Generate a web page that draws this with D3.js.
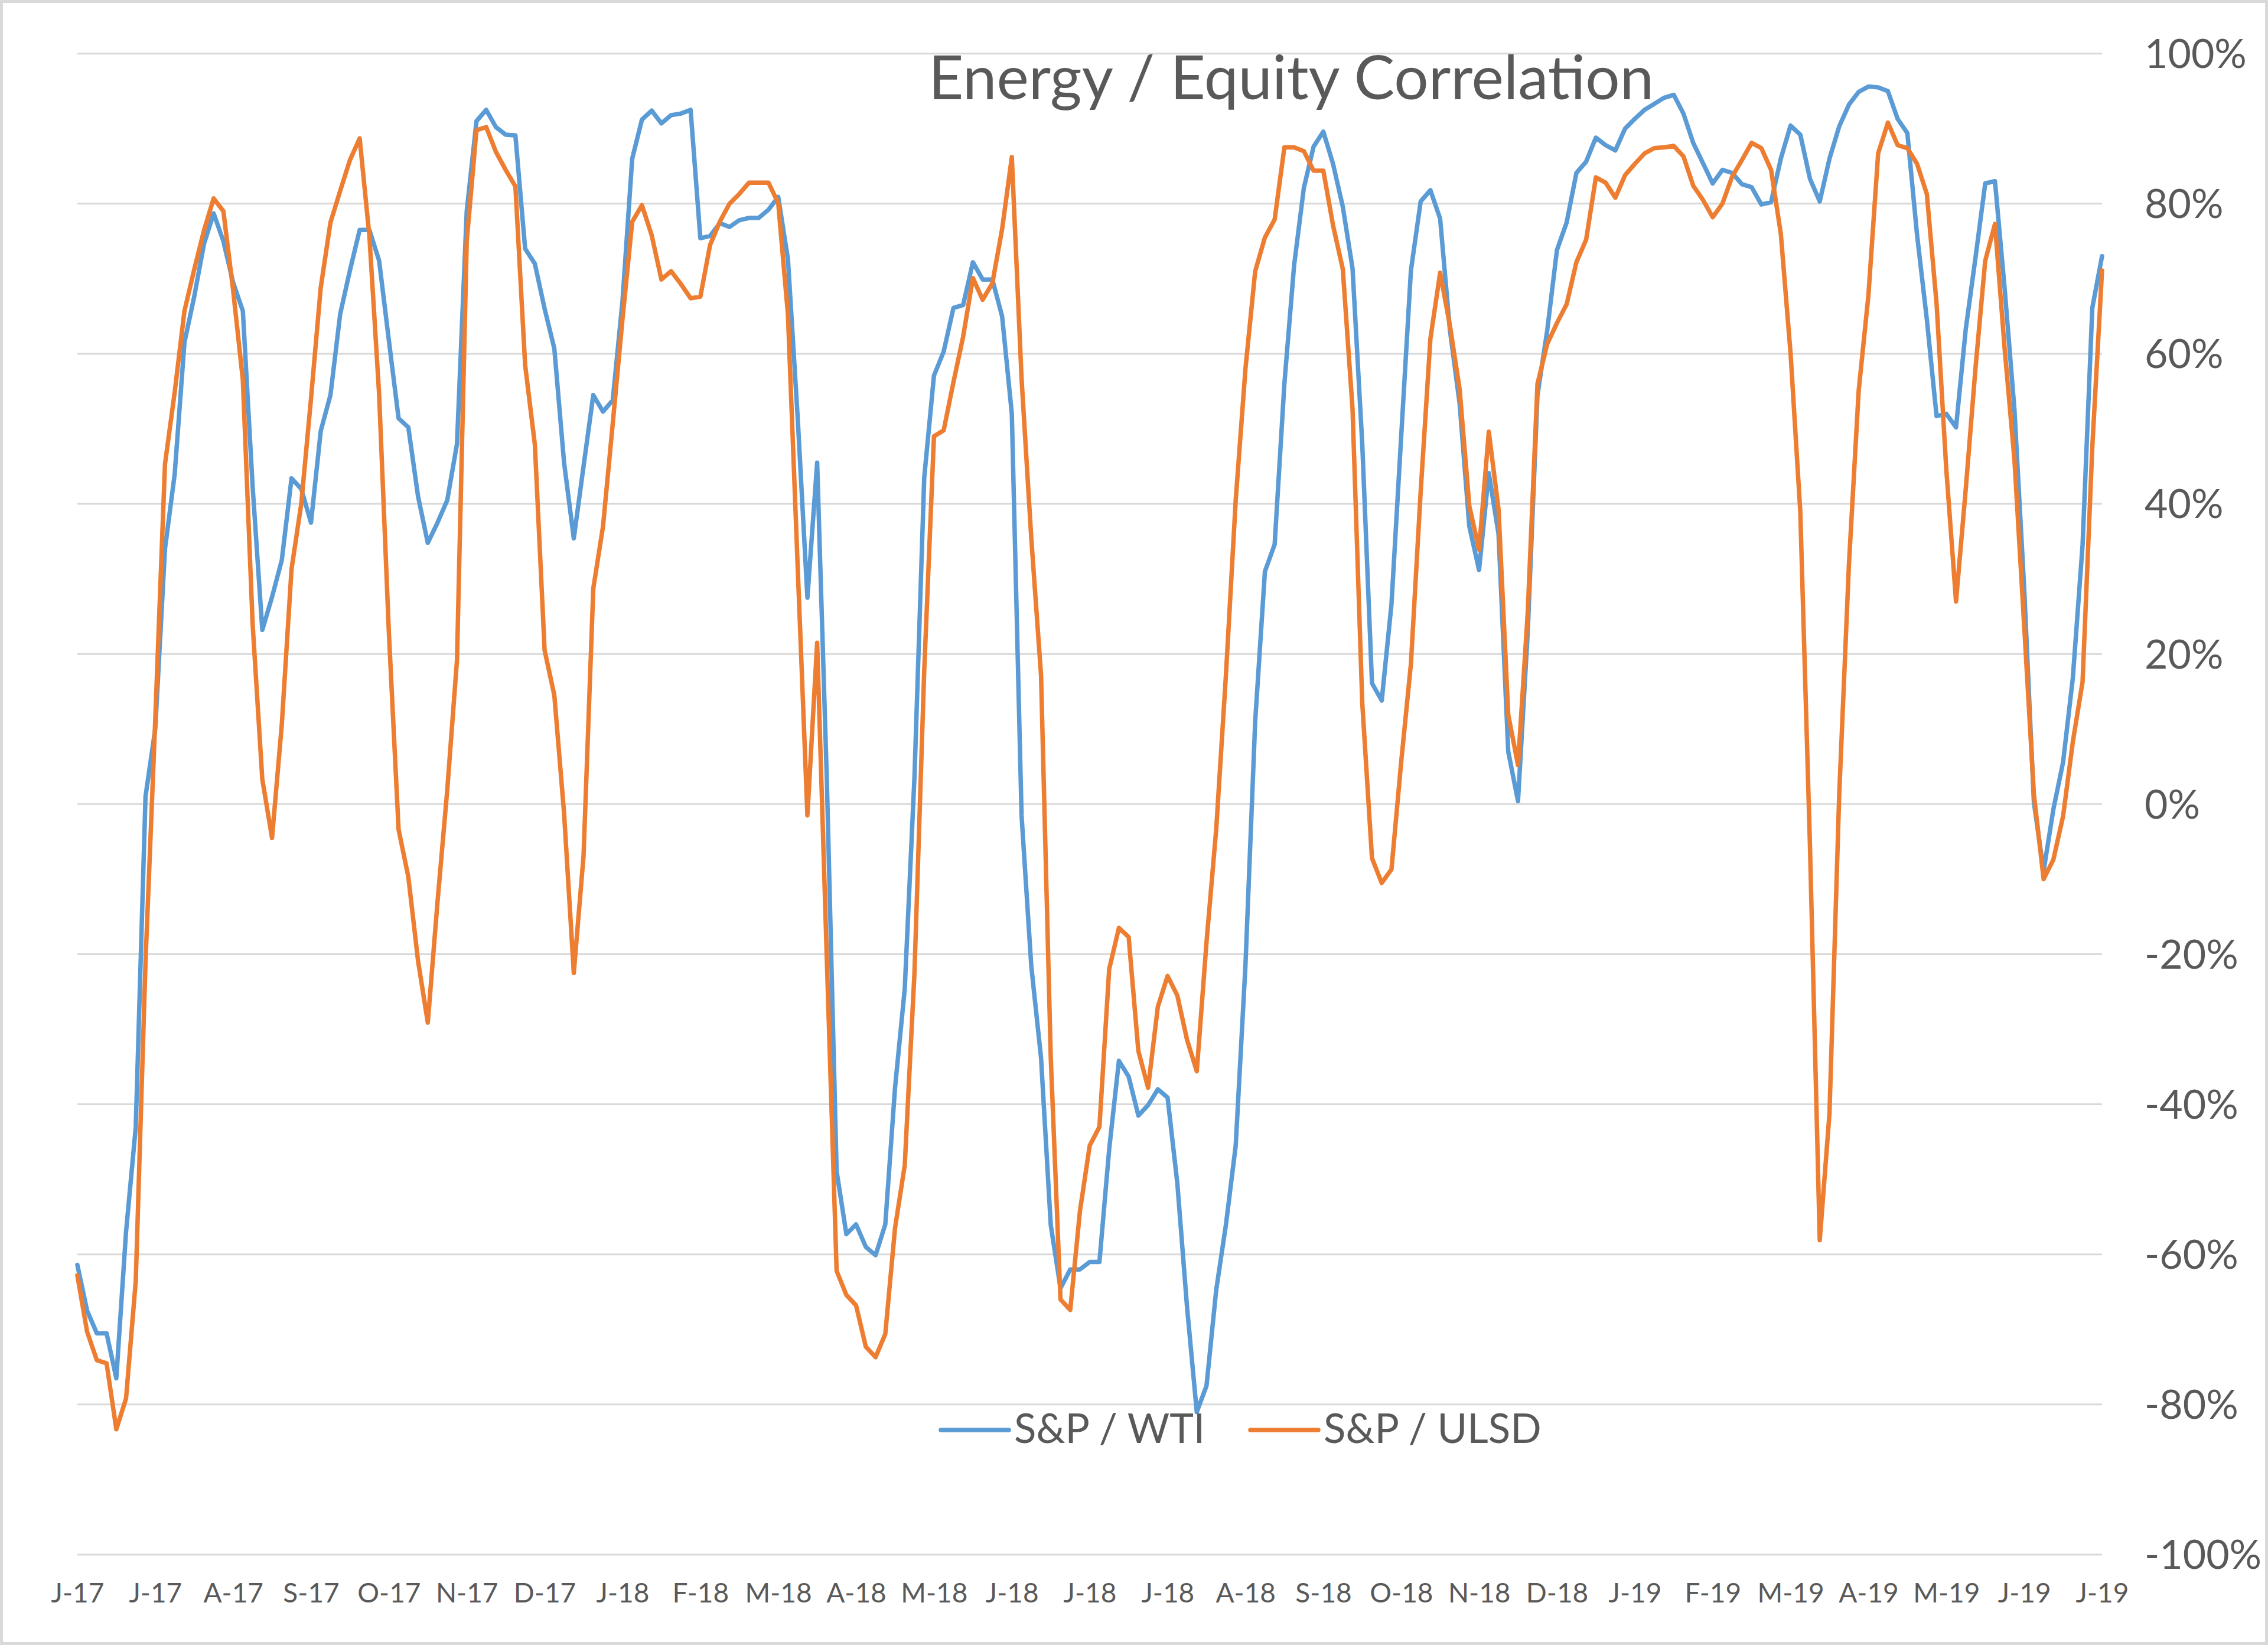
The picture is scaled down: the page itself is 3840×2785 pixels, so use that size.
<!DOCTYPE html>
<html><head><meta charset="utf-8">
<script src="https://cdn.jsdelivr.net/npm/d3@7"></script>
<style>html,body{margin:0;padding:0;background:#fff;} svg{display:block;}</style>
</head><body>
<svg id="chart" width="3840" height="2785"></svg>
<script>
// ---- data ----
const tickLabels = ["J-17","J-17","A-17","S-17","O-17","N-17","D-17","J-18","F-18","M-18","A-18","M-18","J-18","J-18","J-18","A-18","S-18","O-18","N-18","D-18","J-19","F-19","M-19","A-19","M-19","J-19","J-19"];
const pointsPerLabel = 8;
const seriesNames = ["S&P / WTI", "S&P / ULSD"];
const yTicks = [-100,-80,-60,-40,-20,0,20,40,60,80,100];

const wti = [
-61.4,-67.5,-70.5,-70.5,-76.5,-57,-43,1,
10,34,44,61.5,67.6,74.6,78.7,75,
69.5,65.7,42.4,23.2,27.6,32.5,43.4,42,
37.5,49.7,54.5,65.3,71.1,76.5,76.5,72.4,
61.8,51.4,50.2,41,34.8,37.5,40.5,48,
79,91,92.5,90.2,89.2,89.1,74,72,
66,60.7,45.5,35.4,45,54.5,52.3,53.8,
67,86,91.2,92.4,90.7,91.8,92,92.5,
75.4,75.7,77.4,76.9,77.8,78.1,78.1,79.2,
80.9,72.6,51.5,27.5,45.5,3,-48.9,-57.3,
-56,-59,-60.1,-56,-37.8,-24.6,3.7,43.5,
57.1,60.3,66.1,66.5,72.2,69.9,69.9,65,
52,-1.5,-21.6,-33.8,-56.1,-64.5,-62,-62,
-61,-61,-46,-34.2,-36.3,-41.5,-40.1,-38,
-39.1,-50.5,-67,-81,-77.5,-64.7,-56,-45.5,
-21.5,11,31,34.6,56,71.8,82.1,87.6,
89.6,85.3,79.6,71.4,48,16.1,13.8,26.6,
49,71.1,80.3,81.8,78,63.2,53.4,37,
31.2,44.1,36,7,0.4,22.9,54.5,63.1,
73.8,77.5,84.1,85.6,88.8,87.8,87.1,90,
91.3,92.5,93.3,94.1,94.5,92,88.1,85.4,
82.7,84.5,84.1,82.6,82.2,79.9,80.2,86,
90.4,89.2,83.3,80.3,86,90.3,93.2,94.9,
95.6,95.5,95,91.3,89.4,75.8,64.6,51.7,
52,50.2,63.3,72.8,82.7,83,68.6,52.6,
28.8,0.2,-8.9,-0.7,5.6,16.8,34.5,66.1,
73];

const ulsd = [
-62.8,-70.3,-74.1,-74.5,-83.3,-79.2,-63.5,-21,
11.2,45.3,54.9,65.7,71.2,76.4,80.7,79,
68.5,56.5,24.1,3.3,-4.5,10.6,31.3,40,
54,68.8,77.5,81.7,85.8,88.7,75.7,54.6,
22.9,-3.4,-9.7,-20.9,-29.1,-13,1.9,19.2,
75,89.8,90.2,86.9,84.5,82.3,58.5,47.9,
20.5,14.5,-1.2,-22.5,-6.9,28.7,37,50.7,
64.6,77.6,79.8,75.8,69.9,71,69.3,67.4,
67.6,74.5,77.6,80,81.3,82.8,82.8,82.8,
80.1,65.2,31.6,-1.5,21.5,-20.9,-62.2,-65.4,
-66.8,-72.3,-73.7,-70.6,-56.5,-48.1,-22.4,17.8,
49,49.8,56.2,62.3,70.1,67.2,69.4,76.6,
86.2,56.7,35.4,17.2,-33.8,-66,-67.4,-54.2,
-45.5,-43,-22,-16.5,-17.7,-32.9,-37.8,-27,
-22.9,-25.5,-31.4,-35.6,-18.4,-3.3,17.3,40.5,
58,71,75.5,77.9,87.5,87.5,87,84.4,
84.4,77.1,71.3,52.7,13.5,-7.2,-10.5,-8.7,
5.6,18.7,41.6,62,70.8,63.8,55.3,39.7,
33.9,49.6,39.3,11.9,5.2,25.5,56,61.3,
64.1,66.6,72.2,75.2,83.5,82.8,80.8,83.8,
85.3,86.7,87.4,87.5,87.7,86.3,82.4,80.5,
78.2,80,83.6,85.8,88.1,87.4,84.5,76,
60.1,39,-5.8,-58.1,-41.2,1.3,32,55.1,
67.8,86.7,90.8,87.8,87.4,85.3,81.3,66.7,
44.6,27,42,58.1,72.4,77.3,60.6,45.9,
23.8,1.3,-10,-7.4,-1.6,8.3,16.3,47.6,
71.1];

// ---- layout / style ----
const W = 3840, H = 2785;
const plot = {left: 131, right: 3559, top: 90.7, bottom: 2632};
const colors = ["#5B9BD5", "#ED7D31"];
const font = "Lato, 'Open Sans', sans-serif";
const textColor = "#595959";

const svg = d3.select("#chart");
svg.append("rect").attr("x",0).attr("y",0).attr("width",W).attr("height",H).attr("fill","#fff");
svg.append("rect").attr("x",2.5).attr("y",2.5).attr("width",W-5).attr("height",H-5)
  .attr("fill","none").attr("stroke","#d9d9d9").attr("stroke-width",5);

const x = d3.scaleLinear().domain([0, wti.length - 1]).range([plot.left, plot.right]);
const y = d3.scaleLinear().domain([-100, 100]).range([plot.bottom, plot.top]);

// gridlines
svg.append("g").selectAll("line").data(yTicks).join("line")
  .attr("x1", plot.left).attr("x2", plot.right)
  .attr("y1", d => y(d)).attr("y2", d => y(d))
  .attr("stroke", "#d9d9d9").attr("stroke-width", 3);

// y axis (right)
const yAxis = svg.append("g").attr("transform", `translate(${plot.right},0)`)
  .call(d3.axisRight(y).tickValues(yTicks).tickFormat(d => d + "%").tickSize(0).tickPadding(72));
yAxis.select(".domain").remove();
yAxis.selectAll("text").attr("font-family", font).attr("font-size", 68).attr("fill", textColor).attr("dy", "0.35em");

// x axis
const xAxis = svg.append("g").attr("transform", `translate(0,${plot.bottom})`)
  .call(d3.axisBottom(x).tickValues(tickLabels.map((_, i) => i * pointsPerLabel))
    .tickFormat((d, i) => tickLabels[i]).tickSize(0).tickPadding(0));
xAxis.select(".domain").remove();
xAxis.selectAll("text").attr("font-family", font).attr("font-size", 46).attr("fill", textColor)
  .attr("dy", null).attr("y", 81);

// lines
const line = d3.line().x((d, i) => x(i)).y(d => y(d));
[wti, ulsd].forEach((s, k) => {
  svg.append("path").datum(s).attr("d", line).attr("fill", "none")
    .attr("stroke", colors[k]).attr("stroke-width", 7.5)
    .attr("stroke-linejoin", "round").attr("stroke-linecap", "round");
});

// title
svg.append("text").attr("x", 2186).attr("y", 168).attr("text-anchor", "middle")
  .attr("font-family", font).attr("font-size", 103).attr("fill", textColor)
  .text("Energy / Equity Correlation");

// legend
const legendX = [1593, 2117];
const legendY = 2421;
seriesNames.forEach((name, k) => {
  const g = svg.append("g").attr("transform", `translate(${legendX[k]},${legendY})`);
  g.append("line").attr("x1", 0).attr("x2", 115).attr("y1", 0).attr("y2", 0)
    .attr("stroke", colors[k]).attr("stroke-width", 7.5).attr("stroke-linecap", "round");
  g.append("text").attr("x", 124).attr("y", 22).attr("font-family", font).attr("font-size", 69)
    .attr("fill", textColor).text(name);
});
</script>
</body></html>
